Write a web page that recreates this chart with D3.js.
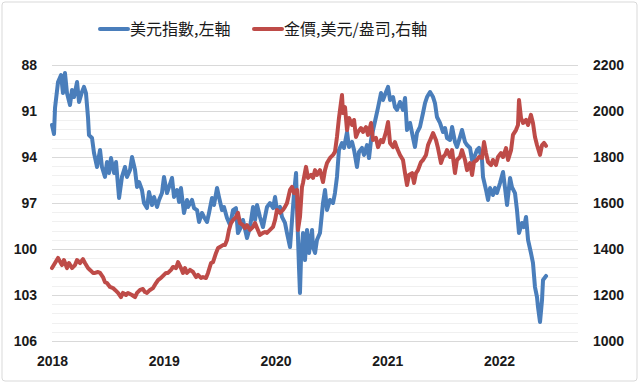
<!DOCTYPE html>
<html><head><meta charset="utf-8">
<script src="https://cdn.jsdelivr.net/npm/d3@7"></script>
<style>html,body{margin:0;padding:0;background:#fff;}svg{display:block;}</style>
</head><body>
<svg id="c" width="640" height="386"></svg>
<script>
// ---- data (decimal year, value) ----
const seriesNames = ["美元指數,左軸", "金價,美元/盎司,右軸"];
const yearTicks = [2018, 2019, 2020, 2021, 2022];
const leftTicks = [88, 91, 94, 97, 100, 103, 106];
const rightTicks = [1000, 1200, 1400, 1600, 1800, 2000, 2200];

const dxyT = [2018.000,2018.018,2018.027,2018.054,2018.081,2018.098,2018.116,2018.134,2018.161,2018.179,2018.197,2018.224,2018.242,2018.268,2018.286,2018.304,2018.322,2018.331,2018.358,2018.376,2018.403,2018.430,2018.447,2018.474,2018.492,2018.510,2018.528,2018.555,2018.573,2018.600,2018.626,2018.653,2018.671,2018.698,2018.716,2018.743,2018.761,2018.779,2018.805,2018.823,2018.850,2018.868,2018.895,2018.913,2018.940,2018.958,2018.984,2019.002,2019.029,2019.047,2019.074,2019.092,2019.119,2019.137,2019.154,2019.181,2019.208,2019.217,2019.253,2019.271,2019.298,2019.316,2019.342,2019.360,2019.387,2019.405,2019.432,2019.450,2019.477,2019.494,2019.521,2019.539,2019.566,2019.593,2019.620,2019.646,2019.664,2019.691,2019.709,2019.745,2019.772,2019.799,2019.817,2019.835,2019.861,2019.888,2019.906,2019.924,2019.951,2019.978,2019.996,2020.013,2020.040,2020.058,2020.085,2020.103,2020.130,2020.148,2020.166,2020.184,2020.193,2020.210,2020.219,2020.228,2020.246,2020.264,2020.282,2020.300,2020.327,2020.336,2020.354,2020.371,2020.398,2020.425,2020.443,2020.461,2020.488,2020.515,2020.532,2020.550,2020.568,2020.595,2020.613,2020.640,2020.658,2020.685,2020.703,2020.729,2020.747,2020.774,2020.792,2020.819,2020.837,2020.855,2020.873,2020.899,2020.917,2020.944,2020.962,2020.989,2021.007,2021.025,2021.052,2021.069,2021.087,2021.114,2021.141,2021.159,2021.177,2021.204,2021.231,2021.248,2021.266,2021.293,2021.320,2021.338,2021.356,2021.383,2021.410,2021.427,2021.445,2021.472,2021.499,2021.517,2021.535,2021.562,2021.580,2021.606,2021.624,2021.651,2021.669,2021.696,2021.714,2021.741,2021.759,2021.776,2021.803,2021.821,2021.848,2021.857,2021.884,2021.902,2021.920,2021.946,2021.964,2021.982,2022.009,2022.036,2022.054,2022.072,2022.099,2022.116,2022.143,2022.161,2022.179,2022.206,2022.224,2022.242,2022.260,2022.286,2022.304,2022.322,2022.340,2022.349,2022.367,2022.385,2022.394,2022.421];
const dxyV = [91.91,92.50,90.80,89.11,88.65,89.83,88.52,89.83,90.61,89.63,90.09,89.11,90.41,89.76,89.43,89.83,91.39,92.57,92.76,93.74,94.65,93.54,94.65,95.30,94.33,95.04,94.07,95.04,94.33,96.67,95.30,94.65,95.30,94.85,94.00,94.85,95.96,95.63,96.15,97.00,97.33,96.28,97.13,96.61,97.26,96.80,96.35,95.30,96.35,95.96,95.37,96.61,96.15,96.93,96.02,97.65,96.80,97.26,96.80,97.33,97.46,98.24,97.65,97.91,98.24,97.65,96.67,97.13,96.02,96.61,97.46,97.26,97.98,98.44,97.46,97.33,98.96,98.57,98.11,99.28,98.57,97.26,98.11,97.13,97.91,98.57,97.91,97.26,97.00,97.33,96.61,97.46,97.26,97.91,98.30,98.96,99.87,98.11,96.35,95.04,97.46,101.17,102.87,100.72,98.96,100.72,98.76,100.26,98.76,99.87,100.26,99.41,98.96,97.00,96.15,97.46,96.80,97.00,96.35,95.30,93.54,93.09,93.41,92.37,93.35,93.02,93.54,94.65,93.67,93.41,93.87,93.22,94.07,92.89,92.24,91.39,90.80,89.83,90.28,89.76,89.43,90.28,90.09,90.74,90.93,90.41,90.93,90.15,92.24,91.78,92.76,93.35,92.43,92.04,91.13,90.48,90.09,89.76,90.09,90.48,91.39,91.78,92.37,92.11,92.76,92.89,92.04,93.02,93.35,92.70,92.24,93.02,93.22,93.41,94.20,94.07,93.54,93.41,94.20,95.30,96.15,96.80,96.02,96.48,96.02,96.35,95.70,94.98,96.02,97.13,95.37,95.96,96.35,97.46,98.96,98.30,98.57,97.91,99.41,100.26,100.91,102.48,103.13,103.78,104.76,103.33,102.02,101.76];

const goldT = [2018.000,2018.027,2018.054,2018.089,2018.107,2018.134,2018.152,2018.179,2018.206,2018.224,2018.251,2018.277,2018.295,2018.322,2018.340,2018.367,2018.385,2018.412,2018.430,2018.456,2018.474,2018.492,2018.519,2018.546,2018.564,2018.591,2018.617,2018.635,2018.662,2018.680,2018.716,2018.743,2018.761,2018.788,2018.814,2018.832,2018.850,2018.877,2018.904,2018.931,2018.949,2018.975,2018.993,2019.020,2019.038,2019.065,2019.083,2019.110,2019.128,2019.154,2019.172,2019.190,2019.208,2019.235,2019.262,2019.289,2019.307,2019.333,2019.351,2019.378,2019.396,2019.423,2019.441,2019.468,2019.486,2019.503,2019.530,2019.548,2019.566,2019.584,2019.602,2019.620,2019.646,2019.664,2019.682,2019.709,2019.727,2019.745,2019.772,2019.799,2019.817,2019.835,2019.861,2019.888,2019.906,2019.924,2019.951,2019.978,2019.996,2020.013,2020.040,2020.067,2020.085,2020.103,2020.130,2020.148,2020.166,2020.193,2020.201,2020.219,2020.237,2020.246,2020.273,2020.291,2020.318,2020.336,2020.354,2020.371,2020.398,2020.425,2020.443,2020.461,2020.488,2020.515,2020.532,2020.550,2020.568,2020.595,2020.604,2020.622,2020.640,2020.658,2020.685,2020.703,2020.720,2020.738,2020.765,2020.783,2020.810,2020.828,2020.855,2020.873,2020.899,2020.917,2020.944,2020.962,2020.989,2021.007,2021.025,2021.052,2021.069,2021.087,2021.114,2021.141,2021.159,2021.177,2021.195,2021.222,2021.240,2021.257,2021.275,2021.302,2021.320,2021.347,2021.365,2021.392,2021.410,2021.436,2021.454,2021.481,2021.499,2021.517,2021.535,2021.562,2021.580,2021.606,2021.624,2021.651,2021.669,2021.696,2021.714,2021.741,2021.759,2021.776,2021.803,2021.821,2021.848,2021.866,2021.884,2021.902,2021.929,2021.946,2021.973,2021.991,2022.018,2022.036,2022.063,2022.081,2022.108,2022.125,2022.152,2022.170,2022.179,2022.197,2022.215,2022.242,2022.260,2022.286,2022.304,2022.322,2022.340,2022.367,2022.385,2022.403,2022.421];
const goldV = [1317,1339,1361,1330,1352,1317,1339,1317,1330,1352,1339,1356,1339,1317,1309,1296,1296,1300,1296,1278,1256,1252,1235,1230,1222,1209,1191,1209,1200,1209,1200,1191,1209,1222,1226,1213,1209,1222,1230,1252,1265,1274,1283,1296,1296,1309,1322,1317,1343,1317,1296,1317,1296,1309,1300,1278,1287,1274,1278,1274,1296,1339,1343,1383,1404,1409,1417,1417,1439,1483,1513,1526,1539,1557,1513,1504,1491,1504,1483,1496,1513,1491,1461,1470,1474,1470,1483,1496,1526,1570,1557,1570,1583,1600,1657,1670,1643,1657,1483,1539,1670,1687,1757,1709,1722,1709,1743,1722,1743,1691,1743,1774,1796,1809,1822,1887,1970,2070,1991,2017,1917,1970,1939,1961,1887,1909,1926,1909,1930,1896,1948,1874,1883,1843,1874,1865,1909,1952,1861,1843,1865,1839,1809,1787,1730,1678,1722,1730,1687,1730,1743,1778,1787,1809,1852,1883,1904,1874,1839,1774,1800,1809,1830,1800,1830,1730,1787,1800,1830,1787,1743,1774,1722,1778,1787,1800,1796,1865,1817,1778,1765,1787,1765,1800,1817,1800,1839,1787,1830,1896,1917,1939,2048,1970,1948,1961,1939,1983,1948,1887,1852,1809,1852,1861,1848];

// ---- layout ----
const W = 640, H = 386;
const plot = {left: 52, right: 578, top: 65, bottom: 341};
const blue = "#4a7ebb", red = "#be4b48";

const svg = d3.select("#c");
svg.append("rect").attr("x", 2).attr("y", 2).attr("width", W - 5).attr("height", H - 7)
  .attr("rx", 3).attr("fill", "#fff").attr("stroke", "#d9d9d9").attr("stroke-width", 1);

const x = d3.scaleLinear().domain([2018, 2018 + (plot.right - plot.left) / 111.75]).range([plot.left, plot.right]);
const yL = d3.scaleLinear().domain([88, 106]).range([plot.top, plot.bottom]);
const yR = d3.scaleLinear().domain([2200, 1000]).range([plot.top, plot.bottom]);

// minor gridlines
const minor = d3.range(88, 106.001, 0.6).filter(v => Math.abs((v - 88) / 3 - Math.round((v - 88) / 3)) > 0.01);
svg.append("g").selectAll("line").data(minor).join("line")
  .attr("x1", plot.left).attr("x2", plot.right)
  .attr("y1", d => Math.round(yL(d)) + 0.5).attr("y2", d => Math.round(yL(d)) + 0.5)
  .attr("stroke", "#f0f0f0").attr("stroke-width", 1);
// major gridlines
svg.append("g").selectAll("line").data(leftTicks).join("line")
  .attr("x1", plot.left).attr("x2", plot.right)
  .attr("y1", d => Math.round(yL(d)) + 0.5).attr("y2", d => Math.round(yL(d)) + 0.5)
  .attr("stroke", "#d9d9d9").attr("stroke-width", 1);

const axisFont = {"font-family": "'Liberation Sans', Arial, sans-serif", "font-size": "14px", "font-weight": "bold", "fill": "#1a1a1a"};
function applyFont(sel) { for (const k in axisFont) sel.attr(k, axisFont[k]); return sel; }

// left axis labels
const gl = svg.append("g").attr("transform", `translate(${plot.left},0)`)
  .call(d3.axisLeft(yL).tickValues(leftTicks).tickSize(0).tickPadding(15).tickFormat(d3.format("d")));
gl.select(".domain").remove();
applyFont(gl.selectAll("text"));

// right axis labels
const gr = svg.append("g").attr("transform", `translate(${plot.right},0)`)
  .call(d3.axisRight(yR).tickValues(rightTicks).tickSize(0).tickPadding(15).tickFormat(d3.format("d")));
gr.select(".domain").remove();
applyFont(gr.selectAll("text"));

// bottom axis labels
const gb = svg.append("g").attr("transform", `translate(0,${plot.bottom})`)
  .call(d3.axisBottom(x).tickValues(yearTicks).tickSize(0).tickPadding(15).tickFormat(d3.format("d")));
gb.select(".domain").remove();
applyFont(gb.selectAll("text"));

// lines
const dxy = dxyT.map((t, i) => [t, dxyV[i]]);
const gold = goldT.map((t, i) => [t, goldV[i]]);
svg.append("path").datum(dxy)
  .attr("d", d3.line().x(d => x(d[0])).y(d => yL(d[1])))
  .attr("fill", "none").attr("stroke", blue).attr("stroke-width", 4).attr("stroke-linejoin", "round").attr("stroke-linecap", "round");
svg.append("path").datum(gold)
  .attr("d", d3.line().x(d => x(d[0])).y(d => yR(d[1])))
  .attr("fill", "none").attr("stroke", red).attr("stroke-width", 4).attr("stroke-linejoin", "round").attr("stroke-linecap", "round");

// legend
const legend = [
  {name: seriesNames[0], color: blue, x: 100},
  {name: seriesNames[1], color: red, x: 254}
];
const lg = svg.append("g");
legend.forEach(l => {
  lg.append("line").attr("x1", l.x).attr("x2", l.x + 28).attr("y1", 29).attr("y2", 29)
    .attr("stroke", l.color).attr("stroke-width", 4).attr("stroke-linecap", "round");
  lg.append("text").attr("x", l.x + 30).attr("y", 35)
    .attr("font-family", "'Noto Sans CJK TC', 'Noto Sans CJK SC', sans-serif")
    .attr("font-size", "16px").attr("fill", "#1a1a1a").text(l.name);
});
</script>
</body></html>
